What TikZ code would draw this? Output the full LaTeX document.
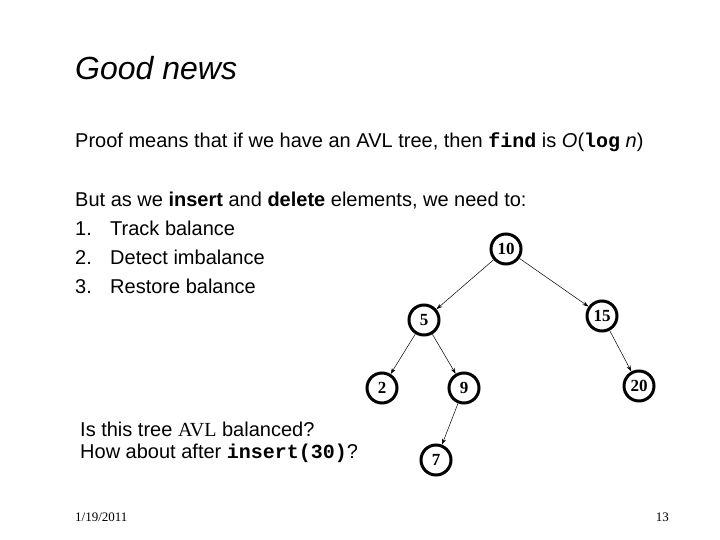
\documentclass[tikz,border=0pt]{standalone}
\usepackage{fontspec}
\setmainfont{Liberation Sans}
\newfontfamily\serifa{Liberation Serif}
\newfontfamily\monoa{Liberation Mono}
\usetikzlibrary{arrows.meta}
\begin{document}
\begin{tikzpicture}[x=1pt,y=-1pt,
  txt/.style={anchor=base west,inner sep=0pt,font=\fontsize{20}{22}\selectfont},
  tnode/.style={circle,draw,line width=3pt,minimum size=30pt,inner sep=0pt,font=\serifa\bfseries\fontsize{17}{18}\selectfont},
  edge/.style={-{Stealth[length=6pt,width=4pt]},line width=0.5pt}]
\useasboundingbox[fill=white] (0,0) rectangle (720,540);
\node[anchor=base west,inner sep=0pt,font=\itshape\fontsize{32}{34}\selectfont] (title) at (75,80) {Good news};
\node[txt] (l1) at (75,148) {Proof means that if we have an AVL tree, then {\monoa\bfseries find} is \textit{O}({\monoa\bfseries log} \textit{n})};
\node[txt] (l2) at (75,207) {But as we \textbf{insert} and \textbf{delete} elements, we need to:};
\node[txt] (n1) at (75,236) {1.};
\node[txt] (t1) at (110,236) {Track balance};
\node[txt] (n2) at (75,264) {2.};
\node[txt] (t2) at (110,264) {Detect imbalance};
\node[txt] (n3) at (75,293) {3.};
\node[txt] (t3) at (110,293) {Restore balance};
\node[txt] (q1) at (80,436) {Is this tree {\serifa AVL} balanced?};
\node[txt] (q2) at (80,458) {How about after {\monoa\bfseries insert(30)}?};
\node[anchor=base west,inner sep=0pt,font=\serifa\fontsize{13}{14}\selectfont] (date) at (75,521) {1/19/2011};
\node[anchor=base east,inner sep=0pt,font=\serifa\fontsize{13}{14}\selectfont] (pg) at (669,521) {13};
\node[tnode] (a10) at (506,249) {10};
\node[tnode] (a5) at (424,320) {5};
\node[tnode] (a15) at (602,316) {15};
\node[tnode] (a2) at (382,388) {2};
\node[tnode] (a9) at (464,388) {9};
\node[tnode] (a20) at (639,386) {20};
\node[tnode] (a7) at (436,460) {7};
\draw[edge] (a10) -- (a5);
\draw[edge] (a10) -- (a15);
\draw[edge] (a5) -- (a2);
\draw[edge] (a5) -- (a9);
\draw[edge] (a9) -- (a7);
\draw[edge] (a15) -- (a20);
\end{tikzpicture}
\end{document}
